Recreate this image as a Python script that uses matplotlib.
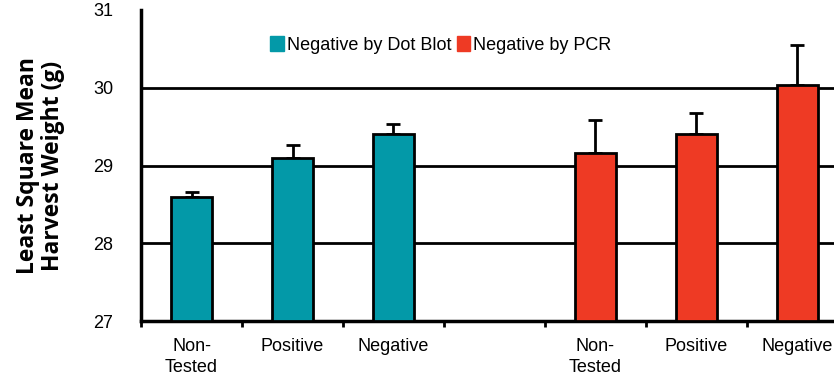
import matplotlib.pyplot as plt
import numpy as np
from matplotlib.patches import Patch

categories = ["Non-\nTested", "Positive", "Negative"]
dot_blot = [28.6, 29.1, 29.4]
dot_blot_err = [0.06, 0.17, 0.13]
pcr = [29.16, 29.40, 30.04]
pcr_err = [0.43, 0.28, 0.51]
grid_levels = [28, 29, 30]

teal = "#0399a8"
red = "#ee3a24"

fig = plt.figure(figsize=(8.34, 3.81), dpi=100)
ax = fig.add_axes([141 / 834, 1 - 321 / 381, 707 / 834, 311 / 381])

x1 = np.arange(3)
x2 = np.arange(4, 7)
for x, vals, err, col in [(x1, dot_blot, dot_blot_err, teal), (x2, pcr, pcr_err, red)]:
    ax.bar(x, np.array(vals) - 27, bottom=27, width=0.4, color=col,
           edgecolor="black", linewidth=2, zorder=3)
    ax.errorbar(x, vals, yerr=[np.zeros(3), err], fmt="none", ecolor="black",
                elinewidth=2, capsize=5, capthick=2, zorder=2)

# horizontal rules (none at the top)
for g in grid_levels:
    ax.axhline(g, color="black", linewidth=2, zorder=1)

ax.set_xlim(-0.5, 6.5)
ax.set_ylim(27, 31)
ax.set_yticks([27, 28, 29, 30, 31])

ax.set_xticks([0, 1, 2, 4, 5, 6])
ax.set_xticklabels(categories + categories, fontsize=13, family="Liberation Sans",
                   linespacing=1.3)
ax.set_xticks(np.arange(-0.5, 7, 1), minor=True)
ax.tick_params(axis="x", which="major", length=0, pad=12)
ax.tick_params(axis="x", which="minor", length=4, width=2, direction="out")
ax.tick_params(axis="y", length=0, pad=20, labelsize=13)
for t in ax.get_yticklabels():
    t.set_family("Liberation Sans")

for s in ["top", "right"]:
    ax.spines[s].set_visible(False)
for s in ["left", "bottom"]:
    ax.spines[s].set_linewidth(2.5)

ax.set_ylabel("Least Square Mean\nHarvest Weight (g)", fontsize=16.5, fontweight="bold",
              family="Open Sans", labelpad=20, linespacing=1.1)

handles = [Patch(color=teal, label="Negative by Dot Blot"),
           Patch(color=red, label="Negative by PCR")]
ax.legend(handles=handles, loc="center", bbox_to_anchor=(0.424, 0.887), ncol=2,
          frameon=False, handlelength=0.75, handleheight=0.85, handletextpad=0.15,
          columnspacing=0.3, prop={"family": "Liberation Sans", "size": 13})

fig.savefig("out.png", dpi=100)
